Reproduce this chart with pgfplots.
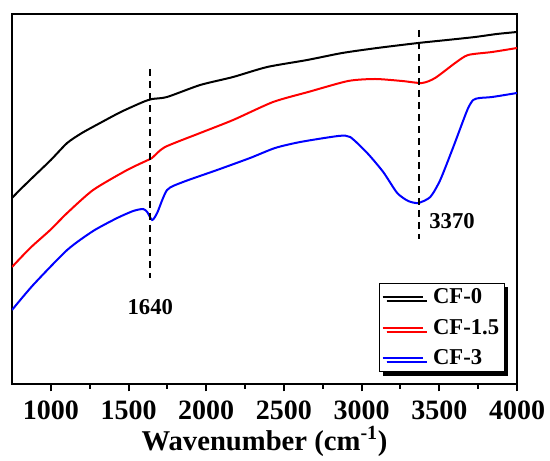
\documentclass[border=0pt]{standalone}
\usepackage{pgfplots}
\pgfplotsset{compat=1.18}
\usepackage{fontspec}
\setmainfont{Liberation Serif}
\usetikzlibrary{shadows}
\begin{document}
\begin{tikzpicture}
\path (-9pt,-56.25pt) rectangle (403.5pt,288pt);
\begin{axis}[
  scale only axis, width=378.75pt, height=277.5pt,
  at={(0pt,0pt)}, anchor=south west,
  xmin=750, xmax=4000, ymin=-384, ymax=-14,
  axis line style={line width=1.8pt},
  ytick=\empty,
  xtick={1000,1500,2000,2500,3000,3500,4000},
  xticklabels={1000,1500,2000,2500,3000,3500,4000},
  minor x tick num=1,
  xtick pos=bottom, tick align=outside,
  major tick length=5.5pt, minor tick length=3.5pt,
  every tick/.style={line width=1.5pt, black},
  xticklabel style={font=\fontsize{21}{23}\selectfont\bfseries, anchor=base, yshift=-21pt},
  xlabel={Wavenumber (cm\textsuperscript{-1})},
  xlabel style={font=\fontsize{21.5}{24}\selectfont\bfseries, at={(axis description cs:0.5,0)}, anchor=base, yshift=-49.5pt},
  legend style={at={(0.976,0.032)}, anchor=south east, draw=black, line width=0.6pt,
    font=\fontsize{17}{19}\selectfont\bfseries, fill=white,
    drop shadow={shadow xshift=3pt, shadow yshift=-3pt, fill=black, opacity=1},
    inner xsep=2pt, inner ysep=2pt, row sep=6pt, column sep=5pt},
  legend cell align=left,
  legend image code/.code={\draw[#1, line width=1.6pt] (0pt,0pt) -- (30pt,0pt);},
]
\addplot[black, line width=1.5pt, smooth, tension=0.4] coordinates {
(750,-198) (800,-190) (886,-177) (1000,-160) (1105,-143) (1200,-133) (1317,-123) (1450,-112) (1593,-102) (1652,-99) (1748,-97) (1961,-85) (2173,-77) (2392,-67) (2650,-60) (2875,-53) (3100,-48) (3364,-43) (3550,-40) (3730,-37) (3870,-34) (4000,-32)};
\addlegendentry{CF-0}
\addplot[red, line width=1.5pt, smooth, tension=0.4] coordinates {
(750,-267) (867,-248) (996,-230) (1105,-213) (1272,-190) (1491,-170) (1639,-159) (1658,-157) (1735,-147) (1961,-133) (2173,-120) (2430,-102) (2656,-92) (2913,-81) (3087,-79) (3261,-81) (3389,-83) (3473,-78) (3602,-63) (3685,-55) (3840,-52) (4000,-48)};
\addlegendentry{CF-1.5}
\addplot[blue, line width=1.5pt, smooth, tension=0.4] coordinates {
(750,-310) (886,-285) (1105,-250) (1272,-231) (1427,-218) (1530,-211) (1593,-209) (1620,-212) (1652,-220) (1684,-213) (1748,-190) (1851,-182) (2070,-170) (2282,-158) (2443,-148) (2605,-142) (2850,-136) (2926,-137) (3036,-153) (3139,-172) (3229,-193) (3300,-201) (3364,-203) (3442,-197) (3506,-180) (3590,-147) (3680,-110) (3718,-100) (3760,-98) (3840,-97) (4000,-93)};
\addlegendentry{CF-3}
\addplot[forget plot, black, line width=1.2pt, dash pattern=on 5pt off 4pt] coordinates {(1640,-69) (1640,-278)};
\addplot[forget plot, black, line width=1.2pt, dash pattern=on 5pt off 4pt] coordinates {(3370,-30) (3370,-239)};
\node[font=\fontsize{17}{19}\selectfont\bfseries] at (axis cs:1640,-307) {1640};
\node[font=\fontsize{17}{19}\selectfont\bfseries] at (axis cs:3582,-221) {3370};
\end{axis}
\end{tikzpicture}
\end{document}
